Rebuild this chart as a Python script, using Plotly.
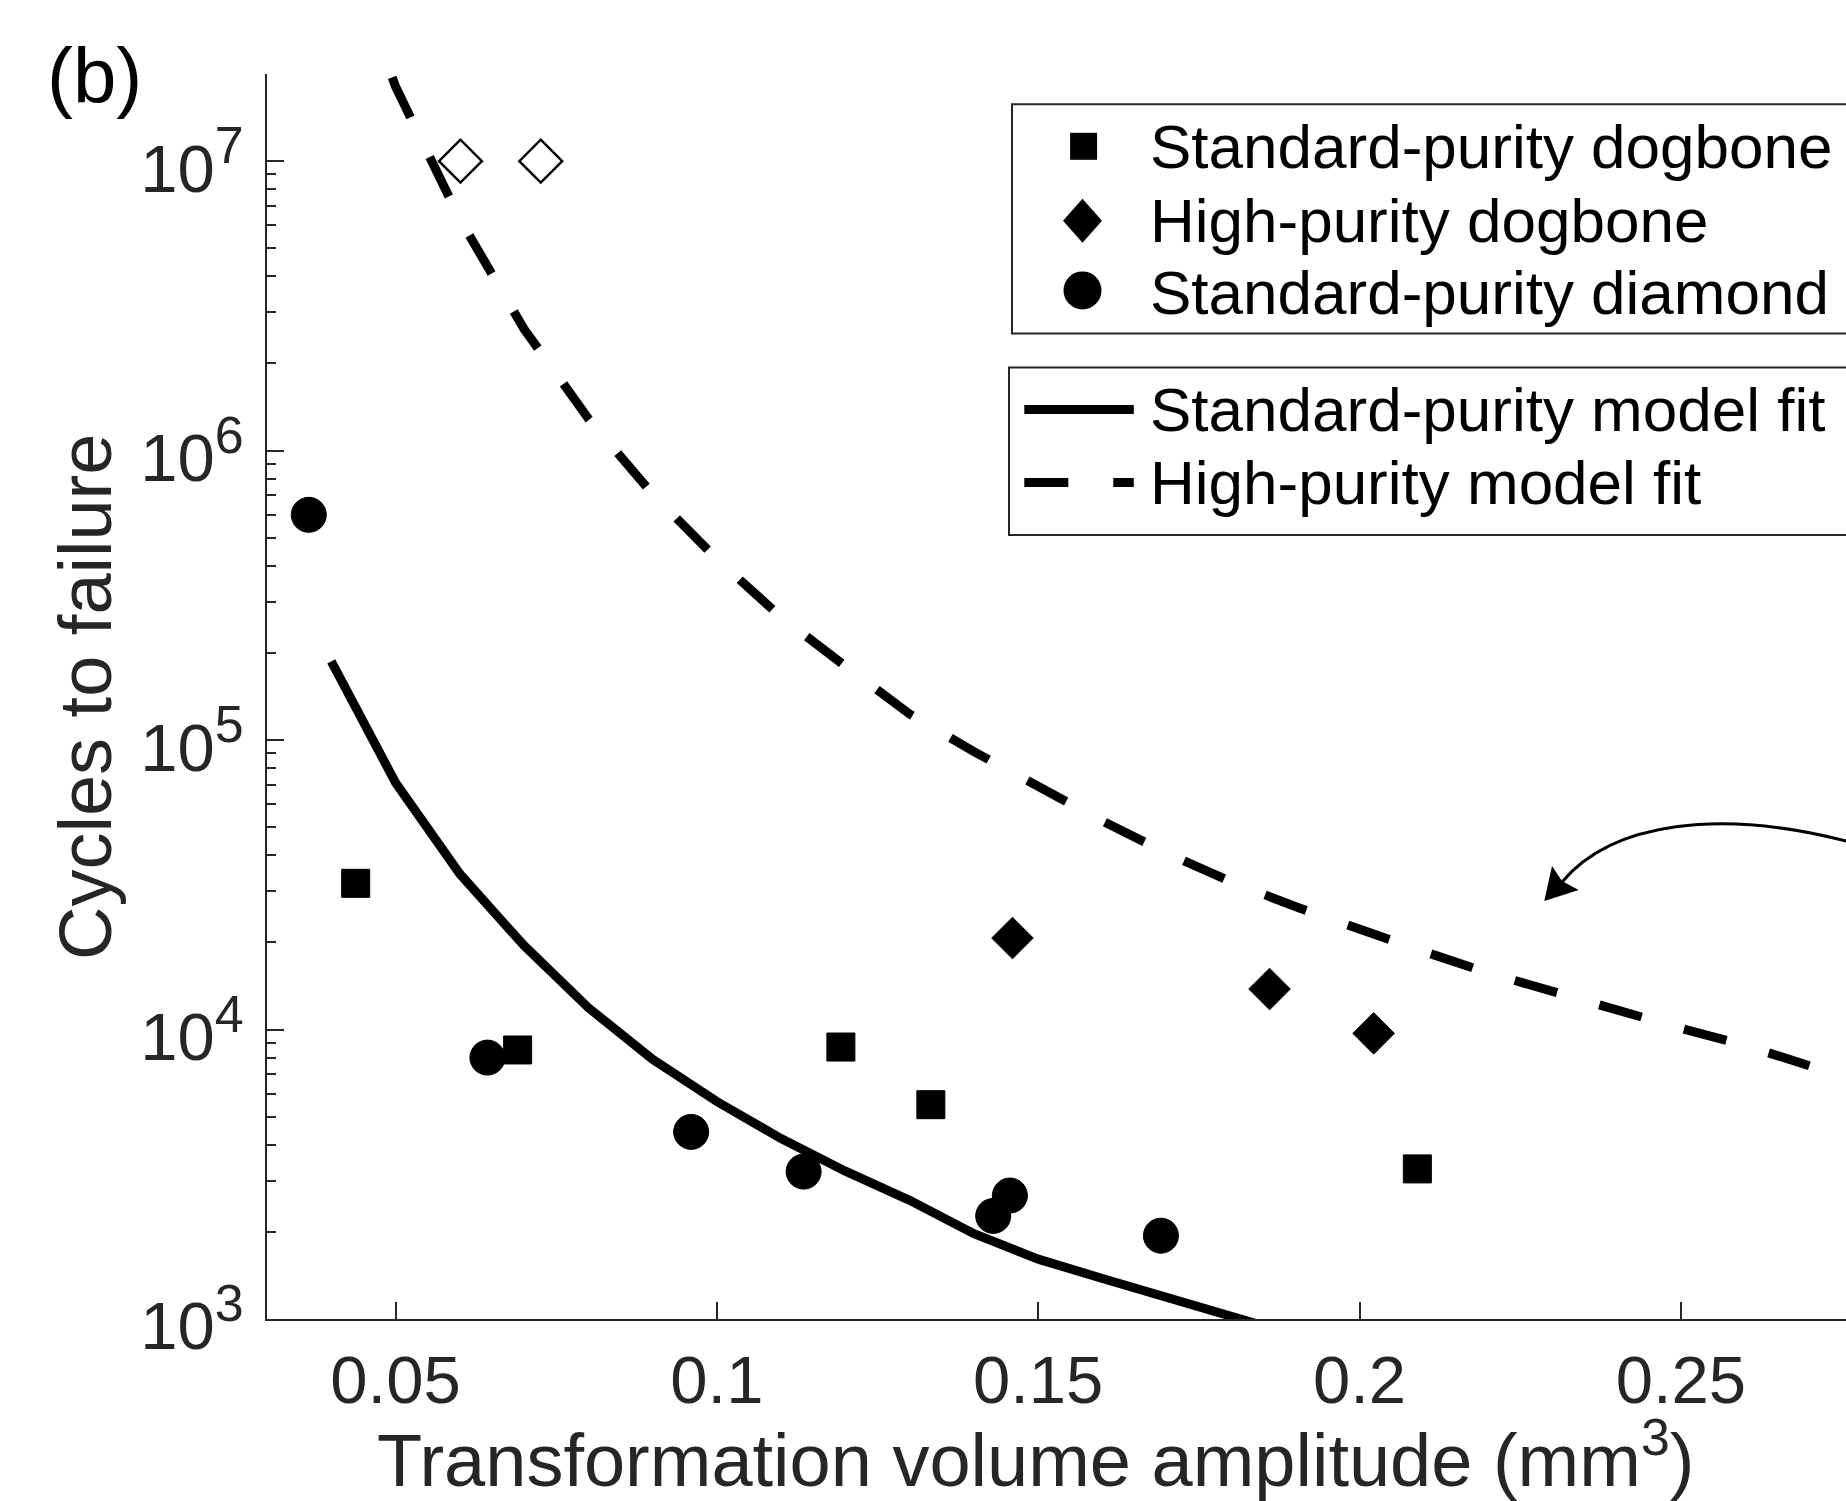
import plotly.graph_objects as go

# ---------------- data ----------------
# Standard-purity dogbone (filled squares)
sd_dog_x = [0.0438, 0.0690, 0.1193, 0.1333, 0.2090]
sd_dog_y = [3.2e4, 8.5e3, 8.7e3, 5.5e3, 3.3e3]

# High-purity dogbone (filled diamonds)
hp_dog_x = [0.1460, 0.1860, 0.2022]
hp_dog_y = [2.07e4, 1.38e4, 9.7e3]

# High-purity dogbone run-outs (open diamonds)
hp_run_x = [0.0601, 0.0726]
hp_run_y = [1.0e7, 1.0e7]

# Standard-purity diamond (filled circles)
sd_dia_x = [0.0365, 0.0643, 0.0960, 0.1135, 0.1430, 0.1456, 0.1691]
sd_dia_y = [6.0e5, 8.0e3, 4.43e3, 3.23e3, 2.27e3, 2.67e3, 1.94e3]

# Standard-purity model fit (solid)
fit_sd_x = [0.04, 0.05, 0.06, 0.07, 0.08, 0.09, 0.10, 0.11, 0.12, 0.13,
            0.14, 0.15, 0.16, 0.17, 0.18, 0.19]
fit_sd_y = [1.87e5, 7.13e4, 3.45e4, 1.95e4, 1.19e4, 7.89e3, 5.64e3, 4.20e3,
            3.24e3, 2.57e3, 1.97e3, 1.61e3, 1.38e3, 1.19e3, 1.02e3, 8.8e2]

# High-purity model fit (dashed)
fit_hp_x = [0.04, 0.05, 0.06, 0.07, 0.08, 0.09, 0.10, 0.11, 0.12, 0.13,
            0.14, 0.15, 0.16, 0.17, 0.18, 0.19, 0.20, 0.21, 0.22, 0.23,
            0.24, 0.25, 0.26, 0.27]
fit_hp_y = [7.24e7, 1.81e7, 6.31e6, 2.63e6, 1.29e6, 7.08e5, 4.22e5, 2.66e5,
            1.80e5, 1.23e5, 9.12e4, 6.92e4, 5.25e4, 4.07e4, 3.24e4, 2.66e4,
            2.21e4, 1.86e4, 1.57e4, 1.35e4, 1.16e4, 1.01e4, 8.81e3, 7.50e3]

x_tickvals = [0.05, 0.10, 0.15, 0.20, 0.25]
x_ticktext = ["0.05", "0.1", "0.15", "0.2", "0.25"]
y_exponents = [3, 4, 5, 6, 7]

legend_markers = ["Standard-purity dogbone", "High-purity dogbone",
                  "Standard-purity diamond"]
legend_lines = ["Standard-purity model fit", "High-purity model fit"]

# ---------------- layout constants ----------------
W, H = 1846, 1501
ML, MR, MT, MB = 267, 0, 74, 182
PW, PH = W - ML - MR, H - MT - MB
FONT = "Liberation Sans, Arial, Helvetica, sans-serif"
AX = "#262626"


def fx(p):
    return (p - ML) / PW


def fy(p):
    return (H - MB - p) / PH


fig = go.Figure()

fig.add_trace(go.Scatter(x=fit_sd_x, y=fit_sd_y, mode="lines",
                         name="Standard-purity model fit",
                         line=dict(color="black", width=9)))
fig.add_trace(go.Scatter(x=fit_hp_x, y=fit_hp_y, mode="lines",
                         name="High-purity model fit",
                         line=dict(color="black", width=9, dash="44px,44px")))
fig.add_trace(go.Scatter(x=sd_dog_x, y=sd_dog_y, mode="markers",
                         name="Standard-purity dogbone",
                         marker=dict(symbol="square", size=28, color="black",
                                     line=dict(color="black", width=1))))
fig.add_trace(go.Scatter(x=hp_dog_x, y=hp_dog_y, mode="markers",
                         name="High-purity dogbone",
                         marker=dict(symbol="diamond", size=32, color="black",
                                     line=dict(color="black", width=1))))
fig.add_trace(go.Scatter(x=hp_run_x, y=hp_run_y, mode="markers",
                         name="High-purity dogbone (run-out)",
                         marker=dict(symbol="diamond-open", size=33,
                                     color="black",
                                     line=dict(color="black", width=2.5))))
fig.add_trace(go.Scatter(x=sd_dia_x, y=sd_dia_y, mode="markers",
                         name="Standard-purity diamond",
                         marker=dict(symbol="circle", size=35, color="black",
                                     line=dict(color="black", width=1))))

minor_vals = [m * 10 ** k for k in range(3, 8) for m in range(2, 10)
              if m * 10 ** k <= 2e7]

fig.update_xaxes(range=[0.03, 0.2757], showline=True, linecolor=AX,
                 linewidth=2, mirror=False, showgrid=False, zeroline=False,
                 tickmode="array", tickvals=x_tickvals, ticktext=x_ticktext,
                 ticks="inside", ticklen=17, tickwidth=2, tickcolor=AX,
                 tickfont=dict(family=FONT, size=67, color=AX),
                 ticklabelstandoff=2)
fig.update_yaxes(type="log", range=[3, 7.30103], showline=True,
                 linecolor=AX, linewidth=2, mirror=False, showgrid=False,
                 zeroline=False, tickmode="array",
                 tickvals=[10 ** e for e in y_exponents],
                 ticktext=[f"10<sup><span style='font-size:52px'>{e}</span></sup>"
                           for e in y_exponents],
                 ticks="inside", ticklen=17, tickwidth=2, tickcolor=AX,
                 tickfont=dict(family=FONT, size=67, color=AX),
                 ticklabelstandoff=8, ticklabelshift=7,
                 minor=dict(tickmode="array", tickvals=minor_vals,
                            ticks="inside", ticklen=9, tickwidth=2,
                            tickcolor=AX, showgrid=False))

shapes = []
# legend boxes (right side cropped by the figure edge, as in the reference)
shapes.append(dict(type="rect", xref="paper", yref="paper",
                   x0=fx(1012), x1=fx(1900), y0=fy(333.6), y1=fy(104.2),
                   line=dict(color=AX, width=2), fillcolor="white",
                   layer="above"))
shapes.append(dict(type="rect", xref="paper", yref="paper",
                   x0=fx(1009), x1=fx(1900), y0=fy(535), y1=fy(367.5),
                   line=dict(color=AX, width=2), fillcolor="white",
                   layer="above"))
# legend glyphs
shapes.append(dict(type="rect", xref="paper", yref="paper",
                   x0=fx(1070.1), x1=fx(1097.1), y0=fy(159.8), y1=fy(132.8),
                   line=dict(width=0), fillcolor="black", layer="above"))
shapes.append(dict(type="path", xref="paper", yref="paper",
                   path=(f"M{fx(1082.5)},{fy(198.8)} L{fx(1102)},{fy(220.8)} "
                         f"L{fx(1082.5)},{fy(242.8)} L{fx(1063)},{fy(220.8)} Z"),
                   line=dict(width=0), fillcolor="black", layer="above"))
shapes.append(dict(type="circle", xref="paper", yref="paper",
                   x0=fx(1063.5), x1=fx(1101.5), y0=fy(309.4), y1=fy(271.4),
                   line=dict(width=0), fillcolor="black", layer="above"))
shapes.append(dict(type="line", xref="paper", yref="paper",
                   x0=fx(1024.3), x1=fx(1133.8), y0=fy(409.6), y1=fy(409.6),
                   line=dict(color="black", width=9), layer="above"))
shapes.append(dict(type="line", xref="paper", yref="paper",
                   x0=fx(1024.3), x1=fx(1133.8), y0=fy(482.5), y1=fy(482.5),
                   line=dict(color="black", width=9, dash="44px,45px"),
                   layer="above"))
# curved arrow annotation
shapes.append(dict(type="path", xref="paper", yref="paper",
                   path=(f"M{fx(1562)},{fy(882)} C{fx(1612)},{fy(822)} "
                         f"{fx(1720)},{fy(808)} {fx(1850)},{fy(842)}"),
                   line=dict(color="black", width=3), layer="above"))
shapes.append(dict(type="path", xref="paper", yref="paper",
                   path=(f"M{fx(1544.3)},{fy(901)} L{fx(1552)},{fy(866)} "
                         f"L{fx(1562)},{fy(881)} L{fx(1578.7)},{fy(890)} Z"),
                   line=dict(width=0), fillcolor="black", layer="above"))

annotations = []
rows_y = [146.9, 220.8, 292.0]
for label, yy in zip(legend_markers, rows_y):
    annotations.append(dict(xref="paper", yref="paper", x=fx(1148), y=fy(yy),
                            xanchor="left", yanchor="middle", text=label,
                            showarrow=False,
                            font=dict(family=FONT, size=62, color="black")))
for label, yy in zip(legend_lines, [409.6, 482.5]):
    annotations.append(dict(xref="paper", yref="paper", x=fx(1148), y=fy(yy),
                            xanchor="left", yanchor="middle", text=label,
                            showarrow=False,
                            font=dict(family=FONT, size=62, color="black")))
# axis titles
annotations.append(dict(xref="paper", yref="paper", x=fx(1035), y=fy(1455),
                        xanchor="center", yanchor="middle",
                        text="Transformation volume amplitude (mm<sup>3</sup>)",
                        showarrow=False,
                        font=dict(family=FONT, size=74, color=AX)))
annotations.append(dict(xref="paper", yref="paper", x=fx(85), y=fy(697),
                        xanchor="center", yanchor="middle", textangle=-90,
                        text="Cycles to failure", showarrow=False,
                        font=dict(family=FONT, size=74, color=AX)))
# panel label
annotations.append(dict(xref="paper", yref="paper", x=fx(94), y=fy(76),
                        xanchor="center", yanchor="middle", text="(b)",
                        showarrow=False,
                        font=dict(family=FONT, size=78, color="black")))

fig.update_layout(width=W, height=H,
                  margin=dict(l=ML, r=MR, t=MT, b=MB, pad=0, autoexpand=False),
                  paper_bgcolor="white", plot_bgcolor="white",
                  showlegend=False, shapes=shapes, annotations=annotations,
                  font=dict(family=FONT, color=AX))

fig.write_html("out.html")
